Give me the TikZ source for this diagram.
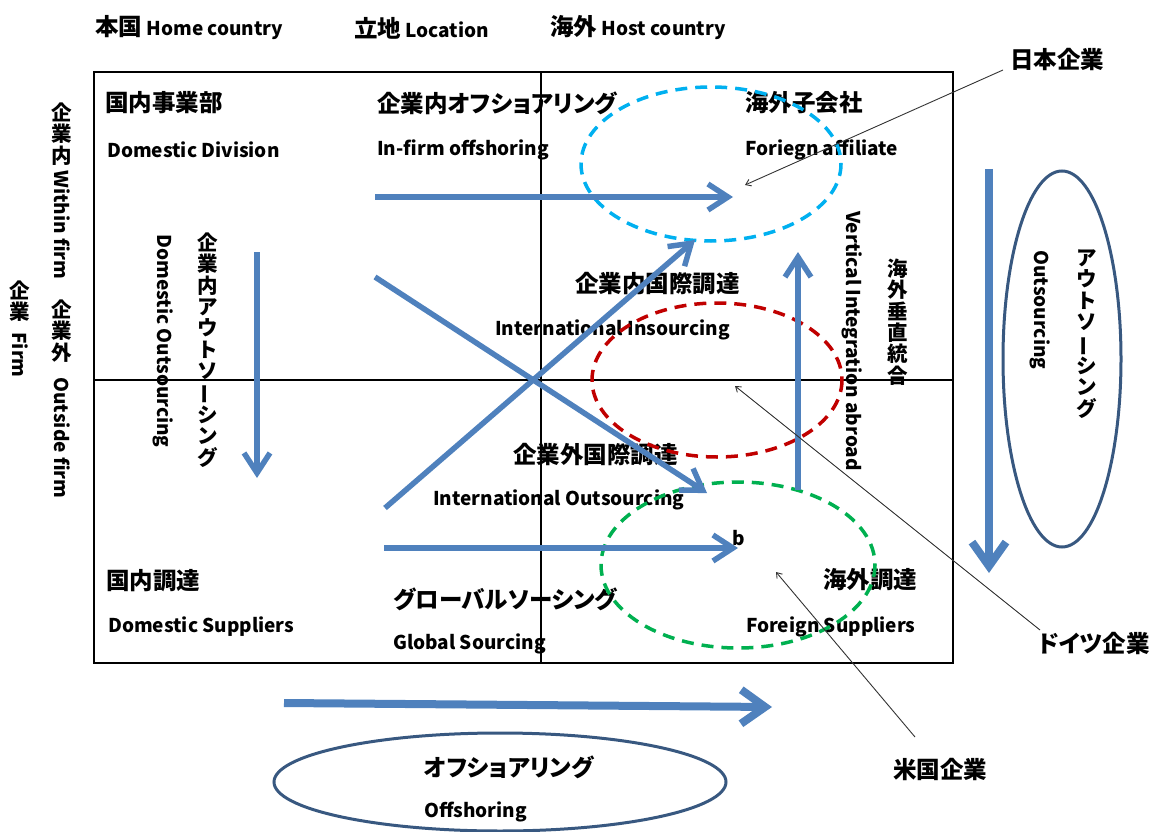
\documentclass[tikz,border=0pt]{standalone}
\usepackage{fontspec}
\setmainfont{Noto Sans CJK JP}
\usetikzlibrary{arrows.meta}
\definecolor{ablue}{RGB}{79,129,189}
\definecolor{navy}{RGB}{56,88,128}
\definecolor{dcyan}{RGB}{0,176,240}
\definecolor{dred}{RGB}{192,0,0}
\definecolor{dgreen}{RGB}{0,176,80}
\newcommand{\vbar}{\rotatebox[origin=c]{90}{ー}}
\newcommand{\J}[1]{{\fontsize{23.5}{24}\selectfont #1}}
\begin{document}
\begin{tikzpicture}[x=1pt,y=-1pt,
  txt/.style={font=\fontsize{19}{22}\selectfont\bfseries, inner sep=0pt, anchor=west},
  cjk/.style={font=\fontsize{23.5}{24}\selectfont\bfseries\addfontfeature{RawFeature=+palt}, inner sep=0pt, anchor=west},
  vstack/.style={font=\fontsize{20.5}{21.3}\selectfont\bfseries, inner sep=0pt, align=center},
  vlat/.style={font=\fontsize{19}{22}\selectfont\bfseries, inner sep=0pt, rotate=-90},
  barrow/.style={draw=ablue, line width=5.5pt, -{Straight Barb[length=20pt,width=26pt]}},
  bigarrow/.style={draw=ablue, line width=8pt, -{Straight Barb[length=24pt,width=34pt]}},
  ptr/.style={draw=black!80, line width=0.9pt, -{Straight Barb[length=5pt,width=7pt]}},
  frame/.style={draw=black, line width=1.5pt},
  dashell/.style={line width=3.5pt, dash pattern=on 12pt off 8pt},
  navyell/.style={draw=navy, line width=3pt}]
\useasboundingbox (0,0) rectangle (1154,832);

% frame and dividers
\draw[frame] (94,72) rectangle (953,663);
\draw[frame] (541,72) -- (541,663);
\draw[frame] (94,380) -- (953,380);

% top labels
\node[txt] (home) at (95,28) {\J{本国} Home country};
\node[txt] (loc) at (354,28) {\J{立地} Location};
\node[txt] (host) at (550,28) {\J{海外} Host country};

% left vertical labels
\node[vstack] (kgn) at (62,134) {企\\業\\内};
\node[vlat] (within) at (62,225) {Within firm};
\node[vstack] (kgg) at (62,331) {企\\業\\外};
\node[vlat] (outside) at (62,438) {Outside firm};
\node[vstack] (kg) at (20,301) {企\\業};
\node[vlat] (firm) at (20,355) {Firm};

% quadrant texts
\node[cjk] (dd1) at (105,103) {国内事業部};
\node[txt] (dd2) at (107,150) {Domestic Division};
\node[cjk] (io1) at (377,103) {企業内オフショアリング};
\node[txt] (io2) at (377,150) {In-firm offshoring};
\node[cjk] (fa1) at (745,103) {海外子会社};
\node[txt] (fa2) at (745,150) {Foriegn affiliate};
\node[cjk] (ii1) at (575,284) {企業内国際調達};
\node[txt] (ii2) at (495,330) {International Insourcing};
\node[cjk] (ioo1) at (513,455) {企業外国際調達};
\node[txt] (ioo2) at (433,500) {International Outsourcing};
\node[cjk] (ds1) at (106,581) {国内調達};
\node[txt] (ds2) at (108,627) {Domestic Suppliers};
\node[cjk] (gs1) at (393,599) {グローバルソーシング};
\node[txt] (gs2) at (393,644) {Global Sourcing};
\node[cjk] (fs1) at (823,580) {海外調達};
\node[txt] (fs2) at (746,627) {Foreign Suppliers};
\node[txt] (b) at (732,538) {b};

% vertical texts inside
\node[vlat] (dout) at (163,341) {Domestic Outsourcing};
\node[vstack] (kgao) at (208,350) {企\\業\\内\\ア\\ウ\\ト\\ソ\\\vbar\\シ\\ン\\グ};
\node[vlat] (via) at (852,341) {Vertical Integration abroad};
\node[vstack] (kssg) at (898,322) {海\\外\\垂\\直\\統\\合};

% ellipses
\draw[dashell, draw=dcyan] (711,164) ellipse [x radius=130, y radius=77];
\draw[dashell, draw=dred] (717,380) ellipse [x radius=125, y radius=77];
\draw[dashell, draw=dgreen] (738,565) ellipse [x radius=137, y radius=83];

% arrow coordinates
\coordinate (a1s) at (375,197); \coordinate (a1e) at (733,197);
\coordinate (a2s) at (385,508); \coordinate (a2e) at (695,240);
\coordinate (a3s) at (375,277); \coordinate (a3e) at (707,493);
\coordinate (a4s) at (798,490); \coordinate (a4e) at (798,252);
\coordinate (a5s) at (384,548); \coordinate (a5e) at (738,548);
\coordinate (a6s) at (257,252); \coordinate (a6e) at (257,478);
\coordinate (a7s) at (989,169); \coordinate (a7e) at (989,573);
\coordinate (a8s) at (284,703); \coordinate (a8e) at (772,707);

\draw[barrow] (a1s) -- (a1e);
\draw[barrow] (a2s) -- (a2e);
\draw[barrow] (a3s) -- (a3e);
\draw[barrow] (a4s) -- (a4e);
\draw[barrow] (a5s) -- (a5e);
\draw[barrow] (a6s) -- (a6e);
\draw[bigarrow] (a7s) -- (a7e);
\draw[bigarrow] (a8s) -- (a8e);

% right outsourcing ellipse
\draw[navyell] (1062,359) ellipse [x radius=59, y radius=188];
\node[vlat] (outs) at (1040,310) {Outsourcing};
\node[vstack] (aos) at (1087,334) {ア\\ウ\\ト\\ソ\\\vbar\\シ\\ン\\グ};

% bottom offshoring ellipse
\draw[navyell] (500,782) ellipse [x radius=226, y radius=49];
\node[cjk] (off1) at (424,767) {オフショアリング};
\node[txt] (off2) at (424,812) {Offshoring};

% company labels and pointers
\node[cjk] (jp) at (1010,60) {日本企業};
\node[cjk] (de) at (1038,643) {ドイツ企業};
\node[cjk] (us) at (893,769) {米国企業};
\coordinate (jps) at (1003,70);
\coordinate (jpt) at (745,185);
\coordinate (des) at (1040,630);
\coordinate (det) at (735,386);
\coordinate (ust) at (776,572);
\coordinate (uss) at (915,737);
\draw[ptr] (jps) -- (jpt);
\draw[ptr] (des) -- (det);
\draw[ptr] (uss) -- (ust);
\end{tikzpicture}
\end{document}
